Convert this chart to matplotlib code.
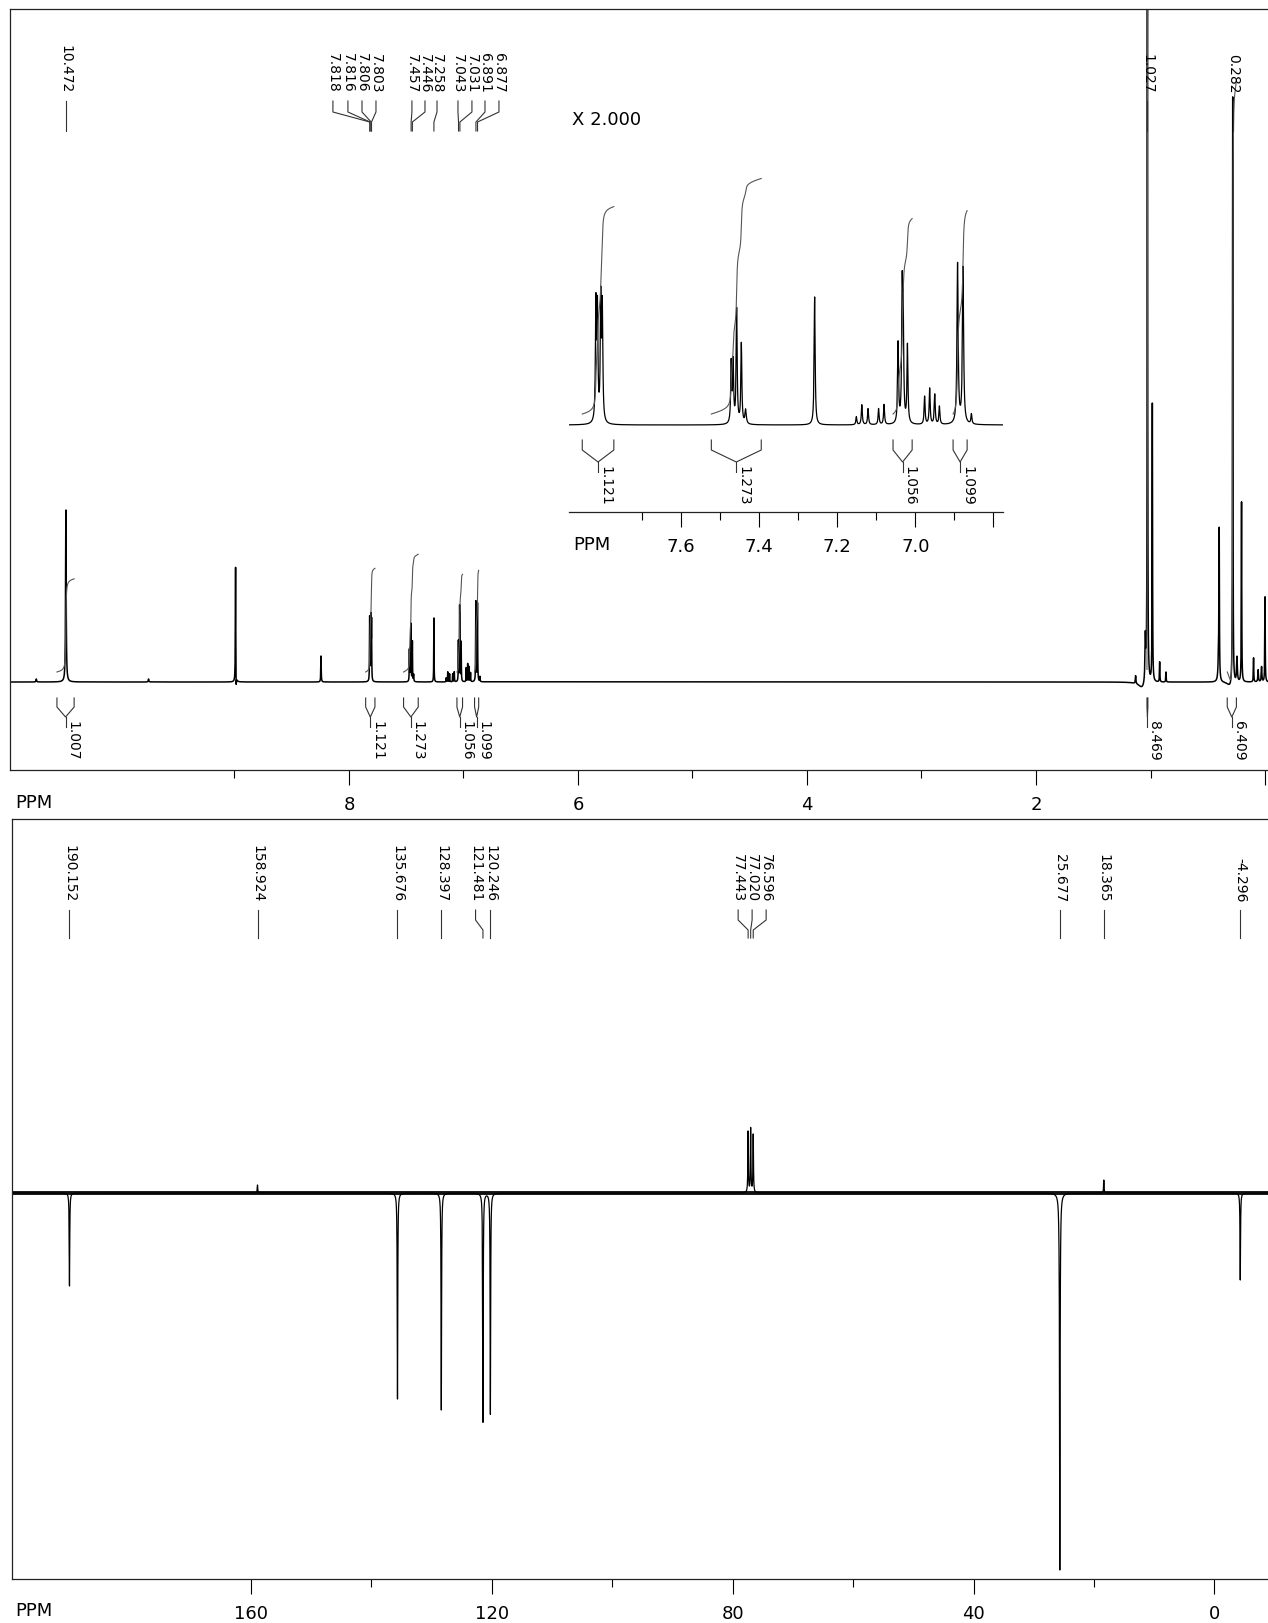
import numpy as np
import matplotlib
matplotlib.use("Agg")
import matplotlib.pyplot as plt

# ---- 1H spectrum: peak list (ppm, height, half width) ----
h_ppm = [10.73, 10.472, 9.75, 8.99, 8.985, 8.244,
         7.819, 7.815, 7.8065, 7.8025,
         7.472, 7.467, 7.458, 7.446, 7.435, 7.258,
         7.151, 7.137, 7.121, 7.094, 7.080,
         7.044, 7.0335, 7.031, 7.020,
         6.976, 6.963, 6.950, 6.938,
         6.8915, 6.8775, 6.856,
         1.13, 1.07, 1.045, 1.027, 0.984, 0.92, 0.865,
         0.405, 0.40, 0.30, 0.282, 0.245, 0.205, 0.10, 0.06, 0.03, 0.00]
h_height = [3, 172, 3, 117, -17, 26,
            58, 55, 60, 56,
            30, 30, 57, 40, 7, 64,
            4, 10, 8, 8, 10,
            40, 62, 50, 39,
            14, 18, 15, 9,
            80, 78, 5,
            8, -7, 45, 900, 278, 20, 10,
            30, 140, -6, 589, 25, 180, 24, 12, 15, 85]
h_width = [0.003, 0.003, 0.003, 0.002, 0.002, 0.002,
           0.0015, 0.0015, 0.0015, 0.0015,
           0.0015, 0.0015, 0.0015, 0.0015, 0.002, 0.0015,
           0.0015, 0.0015, 0.0015, 0.0015, 0.0015,
           0.0015, 0.0015, 0.0015, 0.0015,
           0.0015, 0.0015, 0.0015, 0.0015,
           0.0018, 0.0018, 0.0015,
           0.003, 0.04, 0.004, 0.002, 0.002, 0.002, 0.002,
           0.005, 0.002, 0.03, 0.002, 0.004, 0.002, 0.002, 0.003, 0.003, 0.002]

# integral regions (from, to) and values
int_from = [10.55, 7.854, 7.523, 7.057, 6.903, 1.031, 0.330]
int_to = [10.40, 7.773, 7.395, 7.008, 6.867, 1.023, 0.250]
int_value = [1.007, 1.121, 1.273, 1.056, 1.099, 8.469, 6.409]
int_in_inset = [False, True, True, True, True, False, False]

# picked peaks
h_labels = ['10.472', '7.818', '7.816', '7.806', '7.803', '7.457', '7.446',
            '7.258', '7.043', '7.031', '6.891', '6.877', '1.027', '0.282']

# ---- 13C (APT) spectrum ----
c_ppm = [190.152, 158.924, 135.676, 128.397, 121.481, 120.246,
         77.443, 77.020, 76.596, 25.677, 25.677, 18.365, -4.296]
c_height = [-93, 8, -206, -217, -229, -221, 61, 64, 58, -345, -32, 13, -87]
c_width = [0.05, 0.05, 0.05, 0.05, 0.05, 0.05, 0.05, 0.05, 0.05, 0.05, 0.12, 0.05, 0.05]
c_labels = ['190.152', '158.924', '135.676', '128.397', '121.481', '120.246',
            '77.443', '77.020', '76.596', '25.677', '18.365', '-4.296']

# label layout (where the rotated text sits, ppm)
h_label_x = [10.472, 8.140, 8.009, 7.886, 7.764, 7.450, 7.336,
             7.231, 7.048, 6.926, 6.812, 6.690, 1.027, 0.282]
c_label_x = [190.152, 158.924, 135.676, 128.397, 122.71, 120.246,
             79.10, 76.78, 74.45, 25.677, 18.365, -4.296]

W, H = 1268, 1623
fig = plt.figure(figsize=(W / 100, H / 100), dpi=100)


def lorentz(x, pos, amp, hw):
    y = np.zeros_like(x)
    for p, a, w in zip(pos, amp, hw):
        y += a / (1 + ((x - p) / w) ** 2)
    return y


def axes_px(x0, y0, x1, y1):
    return fig.add_axes([x0 / W, 1 - y1 / H, (x1 - x0) / W, (y1 - y0) / H])


def style_axis(ax, major, minor, labels, pad):
    ax.set_xticks(major)
    ax.set_xticklabels(labels)
    ax.set_xticks(minor, minor=True)
    ax.set_yticks([])
    ax.tick_params(axis='x', which='major', length=10.8, width=0.8, pad=pad,
                   labelsize=13, direction='out')
    ax.tick_params(axis='x', which='minor', length=5.8, width=0.8, direction='out')
    for s in ax.spines.values():
        s.set_linewidth(0.9)
        s.set_color('#222222')


def peak_label(ax, text, lx, px, ys, fs=10):
    yt, y1, y2, y3, y4 = ys
    ax.text(lx, yt, text, rotation=-90, ha='center', va='bottom', fontsize=fs,
            clip_on=False)
    ax.plot([lx, lx, px, px], [y1, y2, y3, y4], color='#333333', lw=0.8,
            clip_on=False)


def bracket(ax, a, b, value, ys, dx, fs=10):
    y1, y2, y3, y4, yt = ys
    c = (a + b) / 2
    ax.plot([a, a, c, b, b], [y1, y2, y3, y2, y1], color='#333333', lw=0.8)
    ax.plot([c, c], [y3, y4], color='#333333', lw=0.8)
    ax.text(c - dx, yt, '%.3f' % value, rotation=-90, ha='center', va='top',
            fontsize=fs)


# spectrum curves
hx = np.union1d(np.linspace(-0.1, 11.0, 150000), h_ppm)
hy = lorentz(hx, h_ppm, h_height, h_width)
cx = np.union1d(np.linspace(-10, 201, 60000), c_ppm)
cy = lorentz(cx, c_ppm, c_height, c_width)


def integral_curve(a, b, value, offset):
    m = (hx <= a) & (hx >= b)
    xs = hx[m][::-1]
    ys = np.cumsum(hy[m][::-1] + 0.3)
    ys = offset + value * 92.5 * ys / ys[-1]
    return xs, ys


# ---------------- top panel: 1H ----------------
ax1 = axes_px(10, 9, W, 770)
ax1.set_xlim(10.96, -0.026)
ax1.set_ylim(-88, 673)
ax1.plot(hx, hy, color='black', lw=1.1)
style_axis(ax1, [8, 6, 4, 2, 0], [9, 7, 5, 3, 1], ['8', '6', '4', '2', ''], 8)
ax1.spines['right'].set_visible(False)

for a, b, v in zip(int_from, int_to, int_value):
    xs, ys = integral_curve(a, b, v, 10)
    ax1.plot(xs, ys, color='#555555', lw=0.8)
    bracket(ax1, a, b, v, (-16, -25, -35, -45, -39), 0.061)

for t, lx in zip(h_labels, h_label_x):
    peak_label(ax1, t, lx, float(t), (589, 581, 570, 560, 551))

fig.text(572 / W, 1 - 120 / H, 'X 2.000', fontsize=13, va='center', ha='left')
fig.text(15 / W, 1 - 803 / H, 'PPM', fontsize=13, va='center', ha='left')

# ---------------- inset (x 2) ----------------
ax2 = axes_px(569, 150, 1003, 512)
ax2.set_xlim(7.888, 6.775)
ax2.set_ylim(-43.5, 137.5)
ax2.plot(hx, hy, color='black', lw=0.9)
style_axis(ax2, [7.6, 7.4, 7.2, 7.0, 6.8], [7.7, 7.5, 7.3, 7.1, 6.9],
           ['7.6', '7.4', '7.2', '7.0', ''], 8)
for s in ['top', 'left', 'right']:
    ax2.spines[s].set_visible(False)
ax2.patch.set_alpha(0)
for a, b, v, show in zip(int_from, int_to, int_value, int_in_inset):
    if not show:
        continue
    xs, ys = integral_curve(a, b, v, 5.5)
    ax2.plot(xs, ys, color='#555555', lw=0.8)
    bracket(ax2, a, b, v, (-7.5, -12.5, -18.5, -23.5, -20.5), 0.018)
fig.text(573 / W, 1 - 545 / H, 'PPM', fontsize=13, va='center', ha='left')

# ---------------- bottom panel: 13C ----------------
ax3 = axes_px(12, 819, W, 1579)
ax3.set_xlim(199.7, -8.9)
ax3.set_ylim(-386, 374)
ax3.axhline(0, color='#111111', lw=2.8)
ax3.plot(cx, cy, color='black', lw=0.9)
style_axis(ax3, [160, 120, 80, 40, 0], [140, 100, 60, 20],
           ['160', '120', '80', '40', '0'], 8)
ax3.spines['right'].set_visible(False)
for t, lx in zip(c_labels, c_label_x):
    peak_label(ax3, t, lx, float(t), (291, 283, 273, 263, 255))
fig.text(15 / W, 1 - 1611 / H, 'PPM', fontsize=13, va='center', ha='left')

fig.savefig('out.png', dpi=100)
